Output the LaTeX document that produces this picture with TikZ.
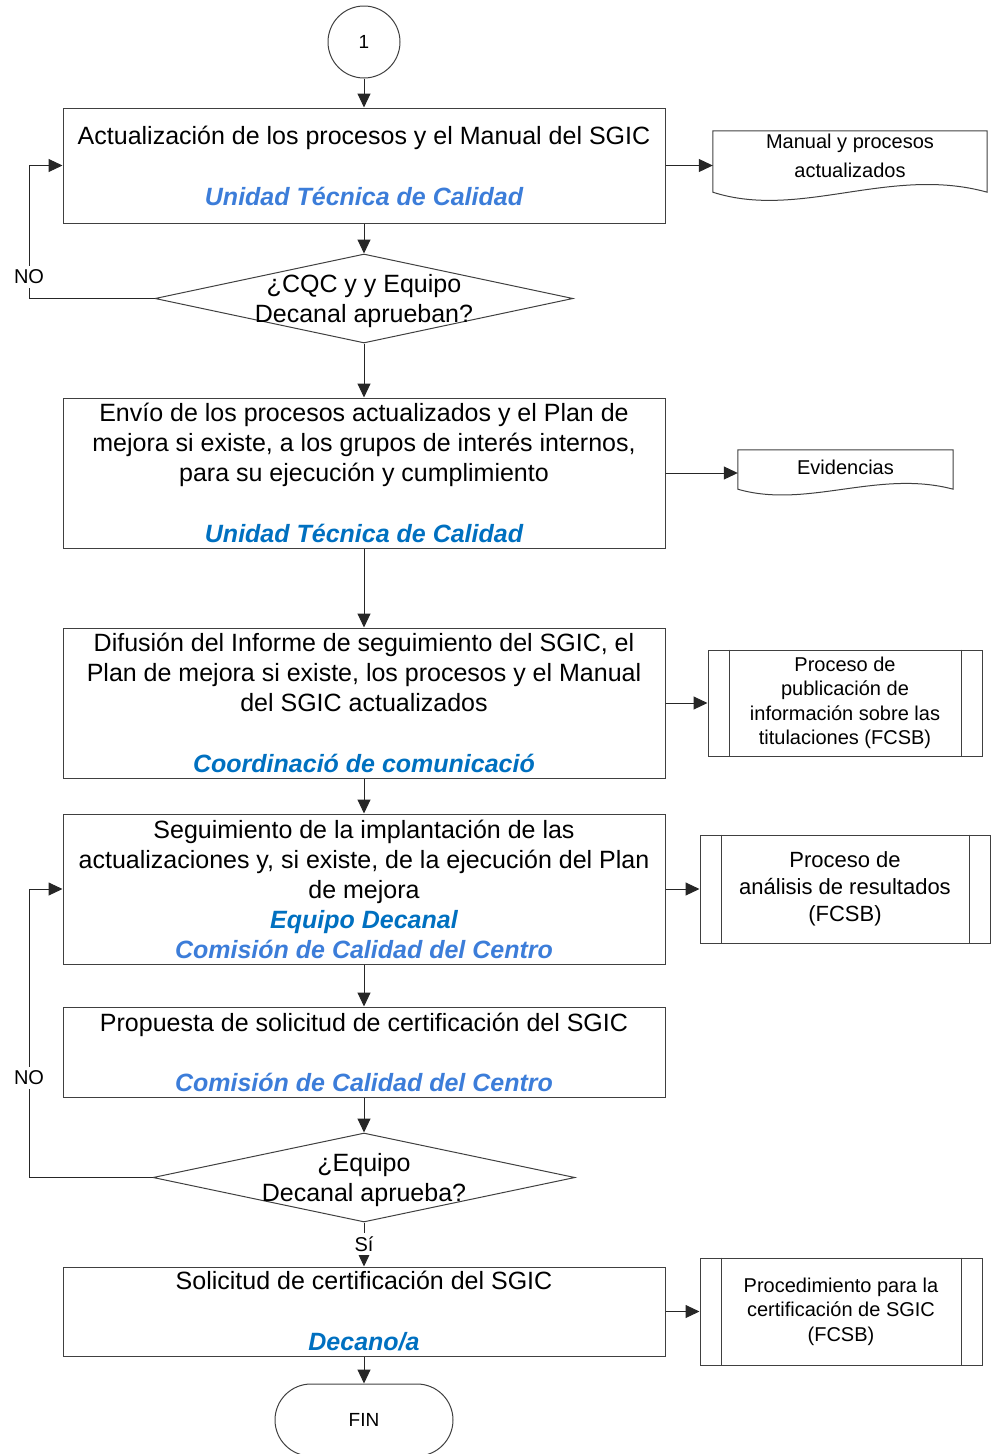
\documentclass[tikz,border=0pt]{standalone}
\usepackage{fontspec}
\setmainfont{Liberation Sans}
\usetikzlibrary{arrows.meta,shapes.geometric,calc}
\definecolor{bluelt}{HTML}{3C7DD9}
\definecolor{bluedk}{HTML}{0070C0}
\definecolor{edgec}{HTML}{404040}
\newcommand{\myfs}[2]{\fontsize{#1}{#2}\selectfont}
\newcommand{\who}[2]{\textcolor{#1}{\bfseries\itshape #2}}
\begin{document}
\begin{tikzpicture}[x=1pt,y=-1pt,
  box/.style={draw=edgec,line width=1pt,minimum width=602pt,inner sep=0pt,align=center,font=\myfs{25}{30}},
  dia/.style={draw=edgec,line width=1pt,shape=diamond,inner sep=0pt,minimum height=89pt},
  dlab/.style={align=center,font=\myfs{25}{30},yshift=-2.5pt},
  docn/.style={inner sep=0pt},
  subp/.style={draw=edgec,line width=1pt,inner sep=0pt,align=center},
  edgeline/.style={draw=edgec,line width=1pt},
  arr/.style={draw=black!85,line width=1pt,-{Triangle[length=14pt,width=13pt]}},
  lbl/.style={fill=white,inner xsep=1.5pt,inner ysep=4pt,font=\myfs{20}{24}}
]
\useasboundingbox (0,0) rectangle (992,1454);

% start
\node[draw=edgec,line width=1pt,circle,minimum size=72pt,inner sep=0pt,font=\myfs{19}{23}] (c1) at (364,42) {1};

% main boxes
\node[box,minimum height=115pt] (b1) at (364,165.5)
  {Actualización de los procesos y el Manual del SGIC\\[31pt]\who{bluelt}{Unidad Técnica de Calidad}};
\node[dia,minimum width=418pt,label={[dlab]center:¿CQC y y Equipo\\Decanal aprueban?}] (dm1) at (364,298.5) {};
\node[box,minimum height=150pt] (b2) at (364,473)
  {Envío de los procesos actualizados y el Plan de\\mejora si existe, a los grupos de interés internos,\\para su ejecución y cumplimiento\\[31pt]\who{bluedk}{Unidad Técnica de Calidad}};
\node[box,minimum height=150pt] (b3) at (364,703)
  {Difusión del Informe de seguimiento del SGIC, el\\Plan de mejora si existe, los procesos y el Manual\\del SGIC actualizados\\[31pt]\who{bluedk}{Coordinació de comunicació}};
\node[box,minimum height=150pt] (b4) at (364,889)
  {Seguimiento de la implantación de las\\actualizaciones y, si existe, de la ejecución del Plan\\de mejora\\\who{bluedk}{Equipo Decanal}\\\who{bluelt}{Comisión de Calidad del Centro}};
\node[box,minimum height=90pt] (b5) at (364,1052)
  {Propuesta de solicitud de certificación del SGIC\\[30pt]\who{bluelt}{Comisión de Calidad del Centro}};
\node[dia,minimum width=422pt,label={[dlab]center:¿Equipo\\Decanal aprueba?}] (dm2) at (364,1177.5) {};
\node[box,minimum height=89pt] (b6) at (364,1311.5)
  {Solicitud de certificación del SGIC\\[31pt]\who{bluedk}{Decano/a}};
\node[draw=edgec,line width=1pt,rounded corners=36pt,minimum width=178pt,minimum height=72pt,inner sep=0pt,font=\myfs{19}{23}] (fin) at (364,1420) {FIN};

% documents
\node[docn,minimum width=274pt,minimum height=61pt,
  label={[align=center,font=\myfs{20}{29},yshift=5.7pt]center:Manual y procesos\\actualizados}] (d1) at (850,161.5) {};
\draw[edgeline] (d1.south west) -- (d1.north west) -- (d1.north east) -- (d1.south east)
  .. controls ($(d1.south east)+(-97,-27)$) and ($(d1.south west)+(87,28)$) .. (d1.south west) -- cycle;
\node[docn,minimum width=215pt,minimum height=39pt,
  label={[font=\myfs{20}{24},yshift=2.5pt]center:Evidencias}] (d2) at (845.5,469.5) {};
\draw[edgeline] (d2.south west) -- (d2.north west) -- (d2.north east) -- (d2.south east)
  .. controls ($(d2.south east)+(-75,-20)$) and ($(d2.south west)+(69,20)$) .. (d2.south west) -- cycle;

% sub-processes
\node[subp,minimum width=274pt,minimum height=106pt,font=\myfs{20}{24.4}] (p1) at (845,703)
  {Proceso de\\publicación de\\información sobre las\\titulaciones (FCSB)};
\draw[edgeline] ([xshift=22pt]p1.north west) -- ([xshift=22pt]p1.south west)
  ([xshift=-21pt]p1.north east) -- ([xshift=-21pt]p1.south east);
\node[subp,minimum width=290pt,minimum height=108pt,font=\myfs{22}{27}] (p2) at (845,889)
  {Proceso de\\análisis de resultados\\(FCSB)};
\draw[edgeline] ([xshift=22pt]p2.north west) -- ([xshift=22pt]p2.south west)
  ([xshift=-21pt]p2.north east) -- ([xshift=-21pt]p2.south east);
\node[subp,minimum width=282pt,minimum height=107pt,font=\myfs{20}{24.5}] (p3) at (841,1311.5)
  {Procedimiento para la\\certificación de SGIC\\(FCSB)};
\draw[edgeline] ([xshift=22pt]p3.north west) -- ([xshift=22pt]p3.south west)
  ([xshift=-21pt]p3.north east) -- ([xshift=-21pt]p3.south east);

% main flow
\draw[arr] (c1) -- (b1);
\draw[arr] (b1) -- (dm1);
\draw[arr] (dm1) -- (b2);
\draw[arr] (b2) -- (b3);
\draw[arr] (b3) -- (b4);
\draw[arr] (b4) -- (b5);
\draw[arr] (b5) -- (dm2);
\draw[arr] (dm2) -- (b6);
\draw[arr] (b6) -- (fin);

% side outputs
\draw[arr] (b1.east) -- (b1.east -| d1.west);
\draw[arr] (b2.east) -- (b2.east -| d2.west);
\draw[arr] (b3.east) -- (p1.west);
\draw[arr] (b4.east) -- (p2.west);
\draw[arr] (b6.east) -- (p3.west);

% loops
\coordinate (k1) at (29,298.5);
\draw[arr] (dm1.west) -- (k1) |- (b1.west);
\coordinate (k2) at (29,1177.5);
\draw[arr] (dm2.west) -- (k2) |- (b4.west);

% labels
\node[lbl] (no1) at (29,277) {NO};
\node[lbl] (no2) at (29,1078) {NO};
\node[lbl] (si) at (364,1244) {Sí};
\end{tikzpicture}
\end{document}
